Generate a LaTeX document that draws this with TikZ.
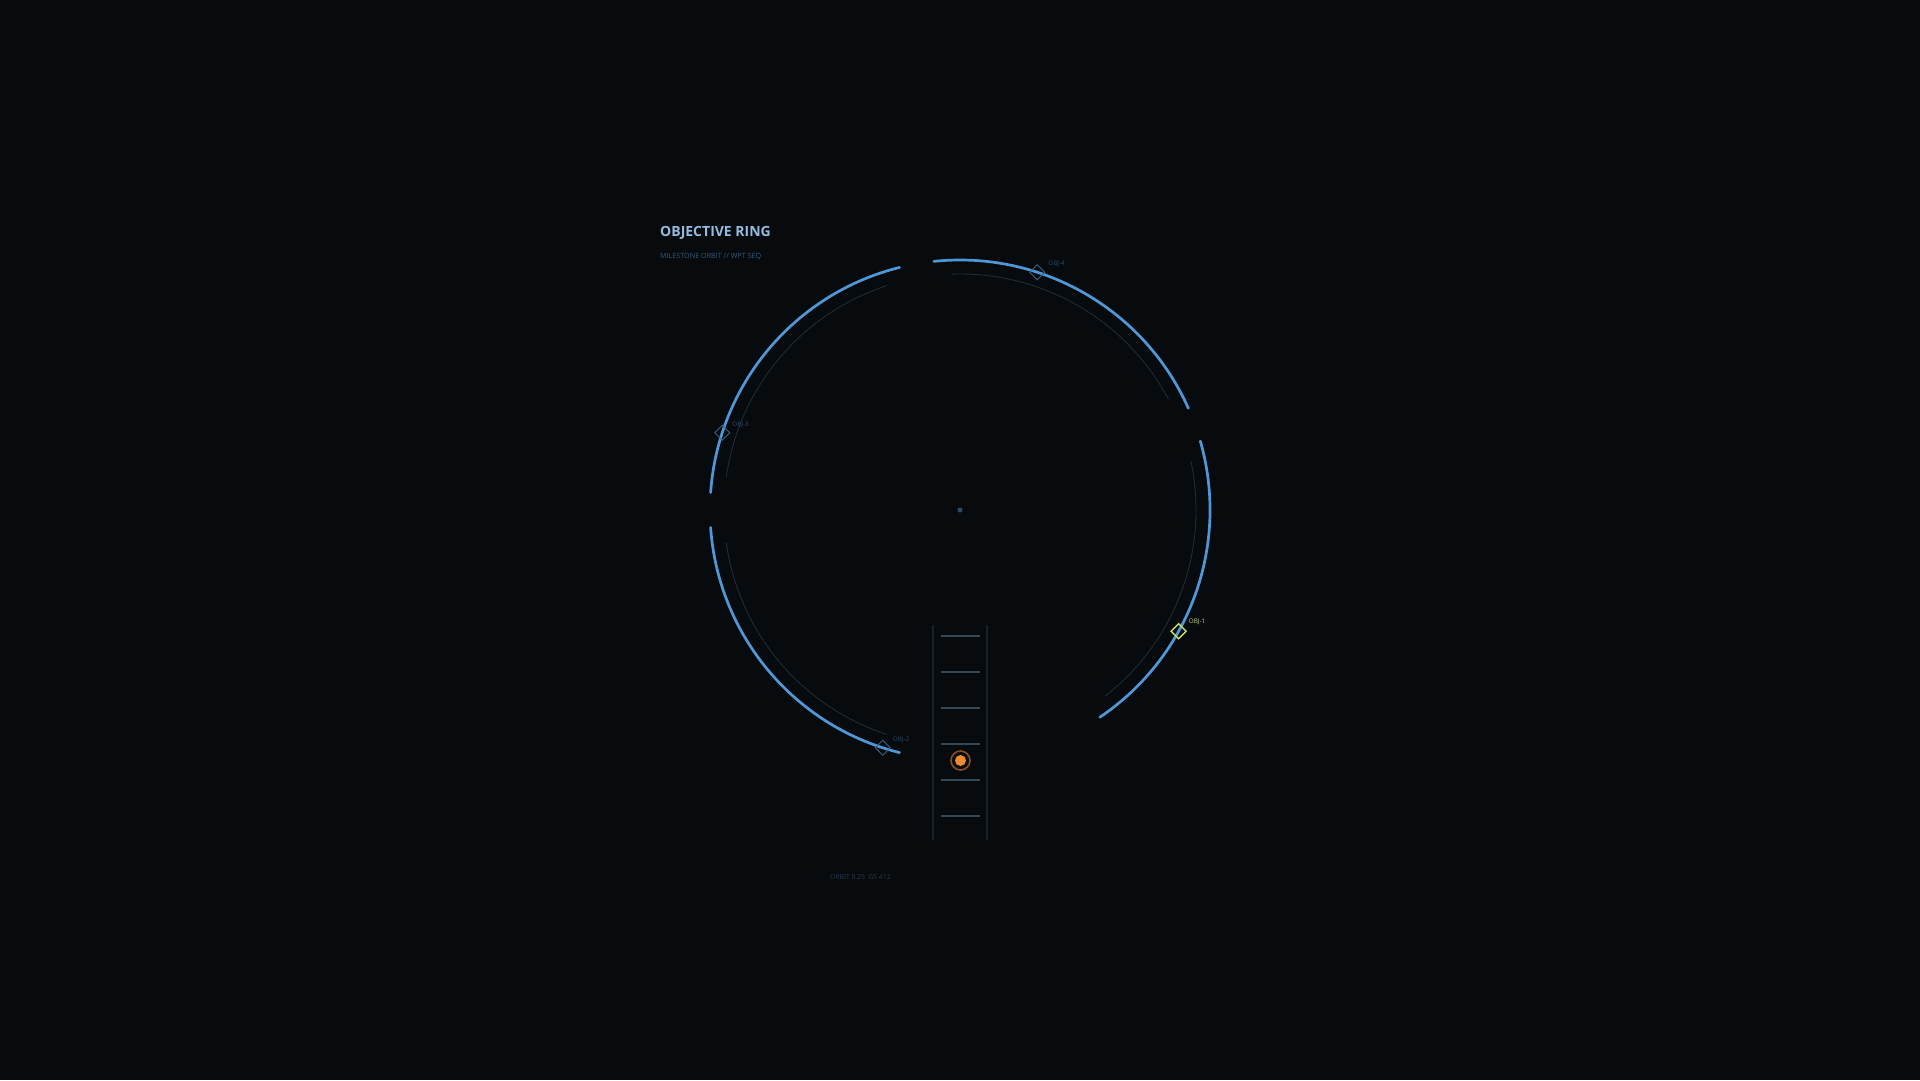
\documentclass[tikz,border=0pt]{standalone}
\usepackage{fontspec}
\usetikzlibrary{calc}
\setmainfont{Open Sans}
\definecolor{bg}{HTML}{070B0E}
\definecolor{ringblue}{HTML}{5097D8}
\definecolor{innerring}{HTML}{1F2B35}
\definecolor{titlecol}{HTML}{94BCE0}
\definecolor{subcol}{HTML}{34587A}
\definecolor{footcol}{HTML}{27394B}
\definecolor{dimmark}{HTML}{3A6284}
\definecolor{dimlabel}{HTML}{2E4A62}
\definecolor{activemark}{HTML}{C6E06A}
\definecolor{activelabel}{HTML}{C4D68E}
\definecolor{rail}{HTML}{16212A}
\definecolor{rung}{HTML}{33485A}
\definecolor{orangefill}{HTML}{F08A2E}
\definecolor{orangering}{HTML}{8A4E1E}
\definecolor{centerdot}{HTML}{2E4C6A}
\tikzset{
  outerarc/.style={draw=ringblue, line width=2.7pt, line cap=round},
  innerarc/.style={draw=innerring, line width=0.9pt},
  markbox/.style={draw=dimmark, line width=1pt, minimum size=10.6pt, inner sep=0pt, rotate=45},
  activebox/.style={draw=activemark, line width=1.4pt, minimum size=10.6pt, inner sep=0pt, rotate=45},
  marklabel/.style={text=dimlabel, font=\fontsize{6.3}{7}\selectfont, anchor=west, inner sep=0pt},
  activetext/.style={text=activelabel, font=\fontsize{6.3}{7}\selectfont, anchor=west, inner sep=0pt},
  railline/.style={draw=rail, line width=1.2pt},
  rungline/.style={draw=rung, line width=1.5pt},
}
\begin{document}
\begin{tikzpicture}[x=1pt,y=-1pt]
\fill[bg] (0,0) rectangle (1920,1080);
\useasboundingbox (0,0) rectangle (1920,1080);
% center
\coordinate (c) at (960,510);
% outer arcs (visual angle theta -> tikz angle -theta)
\draw[outerarc] ({960+250*cos(24)},{510-250*sin(24)}) arc[start angle=-24, end angle=-96, radius=250];
\draw[outerarc] ({960+250*cos(104)},{510-250*sin(104)}) arc[start angle=-104, end angle=-176, radius=250];
\draw[outerarc] ({960+250*cos(184)},{510-250*sin(184)}) arc[start angle=-184, end angle=-256, radius=250];
\draw[outerarc] ({960+250*cos(-56)},{510-250*sin(-56)}) arc[start angle=56, end angle=-16, radius=250];
% inner arcs
\draw[innerarc] ({960+236*cos(28)},{510-236*sin(28)}) arc[start angle=-28, end angle=-92, radius=236];
\draw[innerarc] ({960+236*cos(108)},{510-236*sin(108)}) arc[start angle=-108, end angle=-172, radius=236];
\draw[innerarc] ({960+236*cos(188)},{510-236*sin(188)}) arc[start angle=-188, end angle=-252, radius=236];
\draw[innerarc] ({960+236*cos(-52)},{510-236*sin(-52)}) arc[start angle=52, end angle=-12, radius=236];
% center dot
\node[circle, fill=centerdot, minimum size=5pt, inner sep=0pt] (cdot) at (c) {};
% ladder
\coordinate (rl1) at (933,625); \coordinate (rl2) at (933,840);
\coordinate (rr1) at (987,625); \coordinate (rr2) at (987,840);
\draw[railline] (rl1) -- (rl2);
\draw[railline] (rr1) -- (rr2);
\foreach \yy [count=\i] in {636,672,708,744,780,816} {
  \coordinate (ta\i) at (941,\yy);
  \coordinate (tb\i) at (980,\yy);
  \draw[rungline] (ta\i) -- (tb\i);
}
\node[circle, draw=orangering, line width=1.6pt, minimum size=19pt, inner sep=0pt] (cur) at (960.5,760.5) {};
\node[circle, fill=orangefill, minimum size=11pt, inner sep=0pt] (curdot) at (cur) {};
% markers
\node[markbox] (m4) at ({960+250*cos(72)},{510-250*sin(72)}) {};
\node[markbox] (m3) at ({960+250*cos(162)},{510-250*sin(162)}) {};
\node[markbox] (m2) at ({960+250*cos(-108)},{510-250*sin(-108)}) {};
\node[activebox] (m1) at ({960+250*cos(-29)},{510-250*sin(-29)}) {};
\node[marklabel] (l4) at ($(m4)+(11,-8)$) {OBJ-4};
\node[marklabel] (l3) at ($(m3)+(10,-8)$) {OBJ-3};
\node[marklabel] (l2) at ($(m2)+(10,-8)$) {OBJ-2};
\node[activetext] (l1) at ($(m1)+(10,-9)$) {OBJ-1};
% texts
\node[anchor=west, inner sep=0pt, text=titlecol, font=\fontsize{14}{16}\selectfont\bfseries] (title) at (660,232.5) {OBJECTIVE RING};
\node[anchor=west, inner sep=0pt, text=subcol, font=\fontsize{7.2}{8}\selectfont] (sub) at (660,256) {MILESTONE ORBIT // WPT SEQ};
\node[anchor=west, inner sep=0pt, text=footcol, font=\fontsize{6.8}{8}\selectfont] (foot) at (830,877.5) {ORBIT 0.25\ \ GS 412};
\end{tikzpicture}
\end{document}
